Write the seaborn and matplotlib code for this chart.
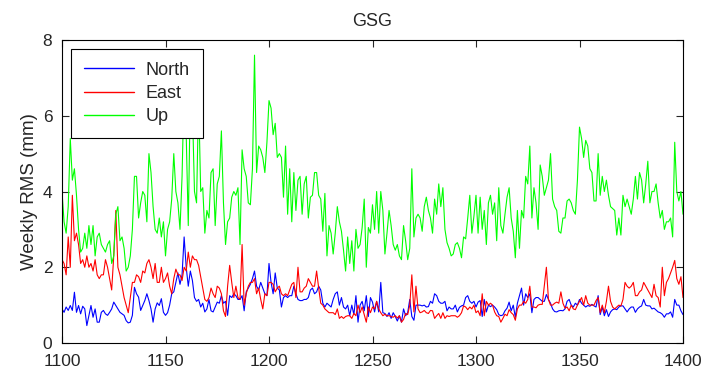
import matplotlib
matplotlib.use("Agg")
import numpy as np
import pandas as pd
import seaborn as sns
import matplotlib.pyplot as plt

# GPS week numbers
weeks = np.arange(1100, 1401)

north = [
    0.9, 0.81, 0.95, 0.86, 0.99, 0.86, 1.34, 0.81, 0.99, 0.77,
    0.97, 0.9, 0.46, 0.73, 0.99, 0.68, 0.9, 0.55, 0.55, 0.81,
    0.86, 0.77, 0.73, 0.81, 0.9, 1.08, 0.99, 0.9, 0.81, 0.77,
    0.73, 0.59, 0.53, 0.55, 0.73, 1.47, 1.3, 1.21, 0.86, 0.99,
    1.12, 1.3, 1.12, 0.9, 0.55, 0.9, 1.06, 0.99, 1.17, 0.81,
    0.73, 0.8, 1.0, 1.3, 1.35, 1.6, 1.85, 1.55, 1.8, 2.8,
    2.0, 1.5, 1.9, 1.65, 1.2, 1.1, 1.15, 0.95, 1.05, 0.82,
    0.9, 1.15, 0.85, 0.82, 0.95, 1.08, 1.05, 1.25, 1.05, 1.1,
    0.73, 1.25, 1.2, 1.3, 1.25, 1.15, 1.15, 1.25, 0.85, 1.35,
    1.45, 1.55, 1.7, 1.9, 1.5, 1.4, 1.6, 1.45, 1.3, 1.25,
    2.1, 1.6, 1.3, 1.85, 1.45, 1.4, 0.95, 1.2, 1.25, 1.2,
    1.25, 1.25, 1.5, 1.3, 1.15, 1.12, 1.12, 1.15, 1.15, 1.2,
    1.4, 1.45, 1.3, 1.35, 1.5, 1.4, 1.05, 0.95, 1.05, 1.0,
    0.95, 1.15, 1.3, 1.35, 1.0, 1.2, 0.95, 0.9, 1.0, 0.72,
    1.0, 0.75, 1.25, 0.55, 1.0, 1.1, 0.85, 1.25, 0.7, 1.2,
    1.08, 0.82, 1.1, 0.82, 1.6, 0.8, 0.78, 0.7, 0.8, 0.65,
    0.8, 0.7, 0.58, 0.72, 0.55, 0.9, 0.72, 0.8, 1.15, 0.7,
    0.6, 1.0, 1.0, 1.0, 0.98, 1.0, 0.95, 0.96, 1.1, 1.05,
    1.3, 1.25, 1.1, 1.05, 1.05, 1.1, 0.85, 0.95, 0.9, 0.9,
    1.0, 0.82, 0.94, 0.98, 1.0, 1.2, 1.25, 1.1, 1.05, 1.1,
    0.95, 1.08,
    1.12, 0.7, 1.15, 0.82, 1.0, 0.96, 1.0, 0.95, 0.88, 0.75,
    0.72, 0.74, 0.85, 0.92, 1.08, 0.85, 1.0, 0.68, 1.05, 1.25,
    1.45, 1.0, 1.3, 1.2, 1.3, 0.8, 1.15, 1.2, 1.2, 1.15,
    1.1, 1.1, 1.28, 1.15, 1.05, 0.9, 0.83, 0.82, 0.85, 0.86,
    0.85, 0.9, 1.1, 1.15, 1.0, 0.95, 1.05, 1.0, 1.15, 1.05,
    1.0,
    0.95, 0.99, 0.97, 1.02, 0.98, 0.95, 1.25, 0.75, 0.95, 0.72,
    0.88, 0.7, 0.82, 0.88, 0.9, 0.88, 0.95, 0.98, 0.98, 0.9,
    0.82, 0.9, 0.95, 0.95, 0.81, 0.9, 0.95, 0.98, 1.15, 1.0,
    0.98, 0.98, 0.9, 0.92, 0.87, 0.82, 0.8, 0.76, 0.68, 0.77,
    0.77, 0.82, 0.68, 1.15, 1.0, 1.0, 0.85, 0.75,
]

east = [
    2.2, 2.1, 1.8, 2.8, 2.0, 3.9, 2.7, 2.9, 2.6, 2.1,
    2.2, 2.0, 2.3, 2.0, 2.1, 1.9, 2.2, 1.8, 1.7, 1.8,
    1.8, 2.2, 2.0, 1.7, 1.4, 2.3, 3.5, 2.0, 1.8, 1.5,
    1.2, 1.0, 0.8, 1.2, 1.6, 1.6, 1.8, 1.75, 1.6, 1.9,
    1.85, 2.1, 2.2, 2.0, 1.7, 2.1, 1.6, 1.6, 2.0, 1.6,
    1.7, 1.85, 1.5, 1.3, 1.7, 1.95, 1.8, 1.8, 1.65, 2.0,
    1.9, 2.4, 2.0, 2.3, 2.2, 2.2, 2.05, 1.75, 1.45, 1.15,
    1.1, 1.2, 1.45, 1.3, 1.2, 1.5, 1.45, 1.3, 0.85, 0.7,
    1.5, 2.05, 1.6, 1.2, 1.5, 1.2, 1.15, 2.6, 1.0, 1.3,
    1.5, 1.6, 1.6, 1.7, 1.3, 1.45, 1.15, 0.9, 1.3, 1.25,
    1.6, 1.6, 1.55, 1.35, 1.45, 1.5, 1.3, 1.25, 1.3, 1.25,
    1.4, 1.55, 1.6, 1.2, 2.0, 1.35, 1.35, 1.45, 1.5, 1.7,
    1.6, 1.5, 1.5, 1.9, 1.45, 1.05, 1.0, 0.9, 0.85, 0.8,
    0.8, 0.8, 0.75, 0.9, 0.65, 0.7, 0.65, 0.7, 0.72, 0.72,
    0.65, 0.78, 0.72, 1.0, 0.8, 0.95, 0.75, 0.55, 0.95, 0.8,
    0.95, 0.9, 1.1, 0.9, 0.8, 0.72, 0.76, 0.72, 0.72, 0.7,
    0.68, 0.72, 0.66, 0.72, 0.55, 0.62, 0.78, 0.75, 1.0, 1.8,
    0.82, 1.5, 0.9, 0.8, 0.82, 0.86, 0.8, 0.78, 0.86, 0.85,
    0.65, 0.72, 0.78, 0.65, 0.8, 0.65, 0.72, 0.7, 0.72, 0.72,
    0.72, 0.68, 0.72, 0.8, 0.98, 0.95, 0.88, 0.95, 0.9, 1.0,
    0.8, 0.85,
    0.72, 1.3, 0.72, 1.1, 1.0, 1.05, 1.0, 0.82, 0.72, 0.7,
    0.55, 0.65, 0.76, 0.72, 0.88, 0.8, 0.75, 0.6, 0.9, 1.0,
    1.0, 1.1, 1.05, 1.15, 1.5, 0.95, 0.95, 0.93, 1.0, 1.02,
    1.02, 1.5, 2.0, 1.15, 1.0, 1.0, 1.05, 1.08, 1.05, 1.35,
    1.05, 0.92, 0.95, 0.85, 1.0, 0.9, 0.88, 1.0, 1.1, 1.2,
    1.0,
    1.25, 1.05, 1.0, 1.0, 1.0, 1.12, 1.2, 0.8, 1.0, 0.8,
    1.1, 1.5, 1.1, 0.95, 0.9, 0.95, 1.0, 0.98, 1.15, 1.6,
    1.5, 1.45, 1.5, 1.6, 1.25, 1.25, 1.35, 1.4, 1.6, 1.5,
    1.4, 1.3, 1.2, 1.55, 1.25, 1.2, 0.95, 2.0, 1.25, 1.6,
    1.7, 1.85, 2.0, 2.18, 1.7, 1.55, 1.75, 1.2,
]

up = [
    4.0, 3.2, 2.9, 3.6, 5.4, 4.3, 4.6, 3.9, 3.0, 2.4,
    2.5, 2.9, 2.5, 3.1, 2.6, 3.1, 2.3, 2.8, 2.9, 2.6,
    2.5, 2.4, 2.6, 2.7, 2.1, 2.3, 3.4, 3.6, 2.7, 2.8,
    2.5, 1.9, 2.0, 2.3, 3.0, 4.4, 4.4, 3.3, 3.7, 4.0,
    3.9, 3.2, 5.0, 4.5, 3.6, 3.0, 2.9, 3.3, 2.8, 3.2,
    2.3, 3.0, 3.2, 3.8, 5.0, 4.0, 3.7, 3.0, 4.4, 6.8,
    5.5, 3.1, 6.6, 6.2, 4.0, 3.7, 6.5, 4.0, 4.1, 2.9,
    3.5, 3.3, 4.5, 4.6, 3.1, 4.2, 4.4, 5.6, 3.7, 2.6,
    3.2, 3.3, 3.85, 4.0, 3.9, 4.1, 2.6, 5.1, 4.6, 4.4,
    3.7, 3.65, 4.6, 7.6, 4.5, 5.2, 5.1, 4.9, 4.5, 5.3,
    6.4, 6.2, 5.5, 5.8, 4.9, 5.0, 4.9, 3.85, 5.2, 3.4,
    4.6, 3.2, 4.5, 3.5, 4.3, 4.4, 3.4, 4.2, 4.4, 3.3,
    3.85, 3.9, 4.5, 4.5, 3.9, 3.8, 2.95, 3.95, 2.3, 3.1,
    2.9, 2.35, 2.9, 3.6, 3.2, 2.95, 2.45, 1.9, 2.8, 2.1,
    2.7, 1.9, 3.0, 2.5, 2.6, 3.05, 3.8, 2.0, 3.05, 2.9,
    3.65, 3.0, 4.0, 2.9, 4.0, 3.5, 2.35, 2.9, 3.5, 3.1,
    2.6, 2.45, 2.6, 2.3, 2.2, 3.1, 2.7, 2.2, 2.5, 4.6,
    2.8, 3.3, 3.4, 3.3, 2.95, 3.6, 3.85, 3.5, 3.3, 2.9,
    3.8, 3.4, 4.2, 3.6, 4.1, 3.0, 2.65, 2.5, 2.3, 2.35,
    2.6, 2.65, 2.5, 2.25, 2.8, 2.75, 3.3, 3.9, 2.9, 3.35,
    3.9, 2.9,
    3.85, 3.0, 3.5, 2.6, 3.7, 3.9, 3.4, 3.7, 2.7, 4.1,
    3.1, 2.9, 3.4, 3.85, 4.1, 3.3, 2.95, 2.25, 3.5, 2.5,
    3.5, 3.3, 4.4, 4.2, 5.2, 3.3, 4.1, 3.7, 3.0, 4.7,
    4.4, 3.9, 4.1, 4.3, 5.0, 3.8, 3.6, 3.5, 2.95, 2.9,
    3.3, 3.3, 3.75, 3.8, 3.7, 3.5, 3.4, 4.3, 5.7, 5.4,
    4.9,
    5.35, 5.2, 4.6, 4.5, 3.75, 3.75, 5.0, 3.9, 4.4, 4.0,
    4.3, 3.9, 3.6, 3.55, 3.5, 2.85, 3.3, 2.85, 3.9, 3.6,
    3.8, 3.6, 3.4, 3.8, 4.4, 3.8, 4.5, 4.3, 3.7, 4.2,
    4.8, 3.7, 4.0, 4.0, 4.2, 3.7, 3.3, 3.5, 3.0, 3.2,
    3.2, 3.3, 2.8, 5.3, 4.0, 3.75, 4.0, 3.4,
]

components = ["North", "East", "Up"]
colors = {"North": "#0000ff", "East": "#ff0000", "Up": "#00ff00"}
x_ticks = [1100, 1150, 1200, 1250, 1300, 1350, 1400]
y_ticks = [0, 2, 4, 6, 8]

df = pd.concat([
    pd.DataFrame({"week": weeks, "rms": north, "component": "North"}),
    pd.DataFrame({"week": weeks, "rms": east, "component": "East"}),
    pd.DataFrame({"week": weeks, "rms": up, "component": "Up"}),
], ignore_index=True)

sns.set_style("ticks")
plt.rcParams['font.family'] = ['Liberation Sans', 'DejaVu Sans']

fig = plt.figure(figsize=(7.09, 3.70), dpi=100)
ax = fig.add_axes([62 / 709, 1 - 343 / 370, 621 / 709, 303 / 370])

sns.lineplot(data=df, x="week", y="rms", hue="component", hue_order=components,
             palette=colors, estimator=None, linewidth=0.8, ax=ax)

ax.set_xlim(1100, 1400)
ax.set_ylim(0, 8)
ax.set_xticks(x_ticks)
ax.set_yticks(y_ticks)
ax.tick_params(direction="in", top=True, right=True, length=5, width=0.8,
               labelsize=12.5)
ax.tick_params(axis="x", pad=8)
ax.tick_params(axis="y", pad=7)
for s in ax.spines.values():
    s.set_visible(True)
    s.set_color("black")
    s.set_linewidth(0.8)

ax.set_xlabel("")
ax.set_ylabel("Weekly RMS (mm)", fontsize=13.5, labelpad=3)
ax.set_title("GSG", fontsize=13, pad=10)

leg = ax.legend(loc="upper left", fontsize=13, frameon=True, fancybox=False,
                framealpha=1, edgecolor="black", handlelength=2.8,
                borderaxespad=0.5, borderpad=0.7, labelspacing=0.35,
                handletextpad=0.65)
leg.get_frame().set_linewidth(0.8)
for line in leg.get_lines():
    line.set_linewidth(1.0)

fig.savefig("out.png", dpi=100)
